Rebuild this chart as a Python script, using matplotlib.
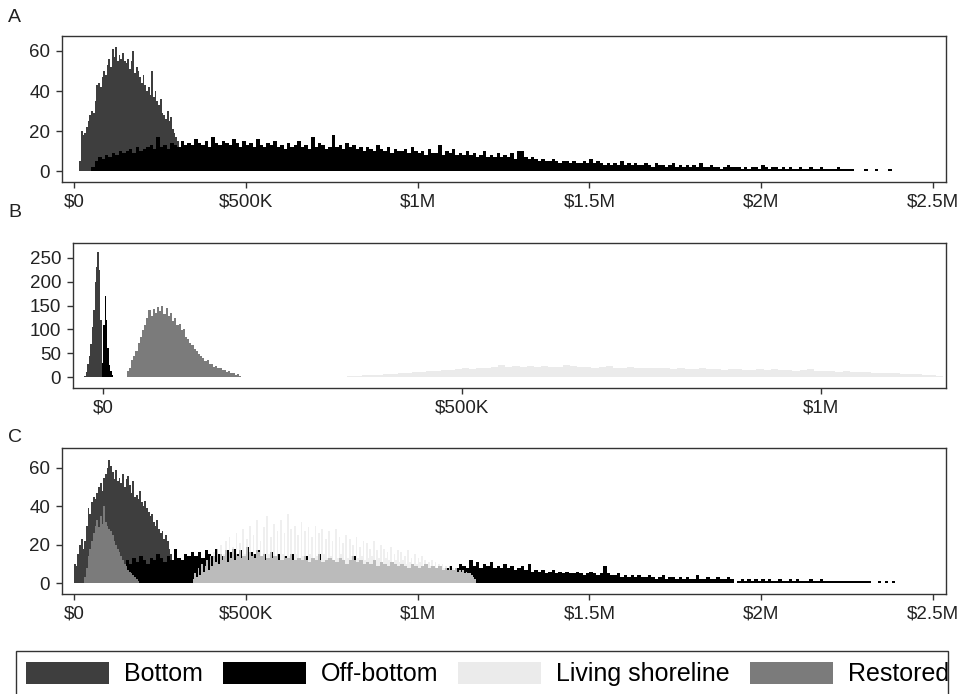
import matplotlib.pyplot as plt
import numpy as np
from matplotlib.patches import Patch, Rectangle

plt.rcParams['font.family'] = ['Liberation Sans', 'DejaVu Sans']

# colours for the four oyster-farming types
c_bottom = '#3e3e3e'
c_off = '#000000'
c_living = '#ebebeb'
c_restored = '#7b7b7b'

# ---- Panel A: counts per bin (x in $K) ----
a_bottom_start, a_bottom_width = 15, 5
a_bottom = [5, 20, 18, 19, 22, 25, 28, 30, 29, 35, 43, 44, 42, 47, 50, 48, 53, 56, 52, 61,
            57, 62, 55, 58, 56, 59, 55, 54, 56, 51, 55, 60, 49, 52, 50, 47, 44, 48, 43, 40,
            42, 38, 50, 37, 40, 35, 33, 36, 29, 28, 26, 30, 25, 27, 21, 19, 17, 15, 12]

a_off_start, a_off_width = 50, 10
a_off = [2, 5, 7, 6, 8, 7, 9, 8, 10, 9,
         10, 11, 9, 12, 10, 11, 12, 13, 11, 17,
         12, 13, 11, 14, 13, 12, 15, 13, 14, 13,
         16, 14, 13, 15, 12, 17, 14, 13, 15, 14,
         13, 16, 14, 12, 15, 13, 14, 12, 16, 13,
         12, 14, 13, 15, 12, 13, 11, 14, 12, 13,
         15, 12, 13, 11, 17, 12, 14, 13, 11, 12,
         18, 12, 13, 11, 14, 12, 13, 11, 12, 10,
         12, 11, 10, 13, 11, 10, 12, 9, 11, 10,
         10, 11, 9, 12, 10, 9, 10, 8, 11, 9,
         9, 13, 8, 10, 9, 11, 8, 9, 8, 10,
         8, 9, 7, 8, 10, 7, 8, 7, 9, 7,
         8, 7, 9, 6, 10, 10, 7, 6, 7, 6,
         5, 6, 5, 5, 6, 5, 4, 5, 5, 4,
         5, 4, 4, 5, 4, 6, 4, 5, 4, 3,
         4, 3, 4, 3, 5, 3, 4, 3, 4, 3,
         3, 4, 3, 2, 4, 3, 3, 2, 3, 4,
         2, 3, 2, 3, 2, 3, 2, 4, 2, 2,
         3, 2, 2, 1, 2, 3, 2, 2, 2, 1,
         2, 1, 2, 2, 1, 3, 2, 1, 2, 2,
         1, 2, 1, 2, 1, 1, 2, 1, 1, 2,
         1, 1, 2, 1, 1, 1, 1, 2, 1, 1,
         1, 1, 0, 0, 0, 1, 0, 0, 1, 0,
         0, 0, 1, 0]

# ---- Panel B ----
b_bottom_start, b_bottom_width = -26, 2
b_bottom = [2, 10, 28, 45, 70, 105, 140, 200, 232, 262, 225, 120, 20]

b_off_start, b_off_width = -2, 2
b_off = [30, 110, 170, 120, 60, 25, 12, 5]

b_restored_start, b_restored_width = 33, 3
b_restored = [12, 20, 35, 45, 55, 72, 85, 98, 110, 125, 140, 128, 143, 135, 148, 138, 150, 132,
              145, 128, 135, 118, 125, 110, 112, 98, 100, 85, 80, 72, 68, 58, 55, 48, 45, 40,
              33, 35, 28, 27, 22, 24, 18, 20, 14, 15, 10, 12, 8, 9, 5, 6, 3]

b_living_start, b_living_width = 340, 10
b_living = [2, 3, 4, 4, 5, 6, 7, 8, 9, 10,
            11, 12, 13, 14, 15, 16, 18, 17, 20, 19,
            22, 25, 21, 23, 22, 24, 21, 23, 22, 21,
            26, 23, 21, 22, 20, 21, 24, 20, 19, 21,
            20, 19, 18, 19, 18, 17, 19, 17, 16, 18,
            17, 16, 15, 17, 16, 15, 14, 16, 15, 17,
            14, 15, 13, 14, 16, 12, 13, 12, 11, 12,
            11, 10, 10, 9, 9, 8, 8, 7, 7, 6,
            5, 4, 3]

# ---- Panel C ----
c_bottom_start, c_bottom_width = 0, 5
c_bottom_vals = [10, 9, 15, 20, 23, 18, 22, 30, 39, 36, 42, 45, 44, 47, 50, 52, 48, 55, 57, 60,
                 64, 61, 58, 54, 59, 53, 55, 52, 57, 50, 54, 56, 51, 47, 53, 45, 46, 44, 48, 42,
                 40, 43, 39, 37, 35, 36, 32, 30, 33, 28, 26, 27, 23, 25, 22, 18, 15, 11, 8, 5]

c_restored_start, c_restored_width = 30, 5
c_restored_vals = [3, 8, 14, 18, 22, 26, 30, 33, 29, 35, 31, 40, 32, 30, 28, 27, 25, 22, 20, 18,
                   16, 14, 12, 10, 9, 7, 6, 5, 4, 3, 2, 1]

c_off_start, c_off_width = 150, 10
c_off_vals = [12, 10, 13, 11, 14, 12, 10, 13, 12, 15,
              13, 11, 14, 12, 18, 13, 12, 15, 14, 16,
              14, 16, 13, 17, 15, 14, 18, 15, 14, 17,
              16, 18, 15, 17, 14, 19, 16, 15, 17, 14,
              15, 13, 16, 14, 15, 12, 14, 13, 15, 12,
              13, 12, 14, 11, 13, 12, 15, 11, 12, 13,
              12, 11, 13, 12, 10, 12, 14, 11, 12, 10,
              11, 10, 12, 9, 11, 10, 9, 11, 10, 9,
              10, 9, 8, 10, 9, 8, 9, 10, 8, 9,
              8, 9, 7, 8, 9, 7, 8, 10, 9, 8,
              12, 9, 11, 8, 10, 9, 11, 8, 9, 8,
              10, 8, 9, 7, 8, 9, 7, 10, 6, 7,
              6, 7, 5, 6, 7, 5, 6, 5, 6, 5,
              5, 6, 5, 4, 5, 6, 5, 4, 5, 9,
              5, 4, 4, 5, 3, 4, 3, 4, 3, 4,
              3, 3, 4, 3, 2, 3, 4, 2, 3, 3,
              2, 3, 2, 3, 2, 2, 4, 2, 2, 3,
              2, 2, 3, 2, 2, 3, 2, 0, 1, 2,
              1, 2, 1, 2, 1, 2, 1, 2, 1, 1,
              2, 1, 1, 2, 1, 2, 1, 1, 1, 2,
              1, 1, 2, 1, 1, 1, 1, 1, 1, 1,
              1, 1, 1, 1, 1, 1, 1, 0, 0, 1,
              0, 1, 0, 1, 0]

c_living_start, c_living_width = 345, 5
c_living_vals = [2, 5, 3, 8, 4, 10, 6, 9, 12, 7,
                 14, 9, 16, 11, 18, 10, 20, 12, 15, 22,
                 11, 24, 13, 19, 12, 26, 14, 21, 13, 28,
                 15, 23, 12, 30, 14, 25, 13, 33, 16, 22,
                 14, 29, 12, 35, 15, 24, 13, 31, 14, 27,
                 12, 33, 15, 26, 13, 36, 14, 28, 12, 30,
                 15, 25, 13, 32, 14, 27, 12, 29, 15, 24,
                 13, 30, 14, 26, 12, 28, 15, 23, 13, 27,
                 14, 22, 12, 28, 13, 24, 15, 21, 12, 25,
                 13, 23, 14, 20, 12, 24, 13, 19, 14, 22,
                 12, 21, 13, 18, 14, 22, 12, 17, 13, 20,
                 11, 18, 13, 16, 12, 19, 11, 15, 12, 17,
                 11, 16, 12, 14, 10, 17, 11, 13, 10, 15,
                 10, 13, 11, 14, 9, 12, 10, 11, 9, 12,
                 9, 11, 8, 10, 9, 10, 8, 9, 7, 9,
                 7, 8, 7, 8, 6, 7, 6, 7, 5, 6,
                 5, 5, 4, 3, 2]

long_ticks = [0, 500, 1000, 1500, 2000, 2500]
long_labels = ['$0', '$500K', '$1M', '$1.5M', '$2M', '$2.5M']
short_ticks = [0, 500, 1000]
short_labels = ['$0', '$500K', '$1M']


def hist(ax, start, width, counts, color, alpha=1.0):
    counts = np.asarray(counts, dtype=float)
    edges = start + width * np.arange(len(counts) + 1)
    ax.stairs(counts, edges, fill=True, color=color, alpha=alpha, linewidth=0)


def style(ax, xlim, ylim, xticks, xlabels, yticks):
    ax.set_xlim(*xlim)
    ax.set_ylim(*ylim)
    ax.set_xticks(xticks)
    ax.set_xticklabels(xlabels)
    ax.set_yticks(yticks)
    ax.tick_params(labelsize=13.5, length=4.5, width=1.0, color='#333333',
                   labelcolor='#222222', pad=4)
    for s in ax.spines.values():
        s.set_color('#333333')
        s.set_linewidth(1.0)


fig = plt.figure(figsize=(9.65, 6.94), dpi=100)
W, H = 965, 694


def add_axes(left, top, right, bottom):
    return fig.add_axes([left / W, 1 - bottom / H, (right - left) / W, (bottom - top) / H])


axA = add_axes(62, 36, 946, 182)
hist(axA, a_bottom_start, a_bottom_width, a_bottom, c_bottom)
hist(axA, a_off_start, a_off_width, a_off, c_off)
style(axA, (-35, 2538), (-5.5, 67.5), long_ticks, long_labels, [0, 20, 40, 60])

axB = add_axes(73, 243, 946, 388)
hist(axB, b_bottom_start, b_bottom_width, b_bottom, c_bottom)
hist(axB, b_off_start, b_off_width, b_off, c_off)
hist(axB, b_restored_start, b_restored_width, b_restored, c_restored)
hist(axB, b_living_start, b_living_width, b_living, c_living)
style(axB, (-42, 1174), (-23, 281.5), short_ticks, short_labels, [0, 50, 100, 150, 200, 250])

axC = add_axes(62, 448, 946, 594)
hist(axC, c_bottom_start, c_bottom_width, c_bottom_vals, c_bottom)
hist(axC, c_off_start, c_off_width, c_off_vals, c_off)
hist(axC, c_restored_start, c_restored_width, c_restored_vals, c_restored)
hist(axC, c_living_start, c_living_width, c_living_vals, c_living, alpha=0.8)
style(axC, (-35, 2538), (-5.7, 70.4), long_ticks, long_labels, [0, 20, 40, 60])

for lab, y in [('A', 18), ('B', 213), ('C', 437)]:
    fig.text(8 / W, 1 - y / H, lab, fontsize=14, va='center', ha='left', color='#222222')

# legend: box runs off the bottom edge of the figure
fig.add_artist(Rectangle((16 / W, -0.05), (948 - 16) / W, (1 - 651 / H) + 0.05,
                         transform=fig.transFigure, fill=False, edgecolor='#333333',
                         linewidth=1.0))
handles = [Patch(facecolor=c, edgecolor='none') for c in [c_bottom, c_off, c_living, c_restored]]
names = ['Bottom', 'Off-bottom', 'Living shoreline', 'Restored']
fig.legend(handles, names, ncol=4, loc='center left', bbox_to_anchor=(26 / W, 1 - 674 / H),
           fontsize=18, frameon=False, borderpad=0, borderaxespad=0,
           columnspacing=0.8, handletextpad=0.6, handlelength=3.32, handleheight=0.96)

fig.savefig('out.png', dpi=100)
